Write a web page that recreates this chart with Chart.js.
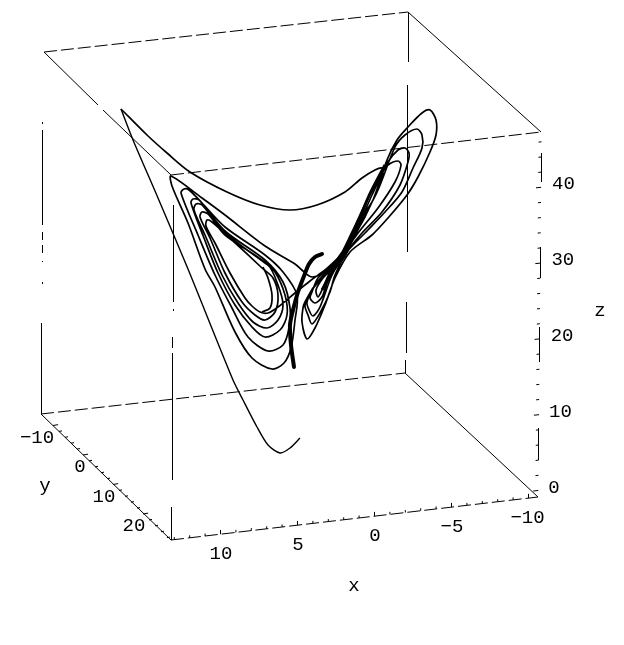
<!DOCTYPE html>
<html><head><meta charset="utf-8">
<style>html,body{margin:0;padding:0;background:#fff}canvas{display:block}</style>
<script src="https://cdn.jsdelivr.net/npm/chart.js@4"></script></head>
<body><canvas id="c" width="624" height="645"></canvas>
<script>
// Curve samples in the projected plane of the 3D view.
const tailX=[300,290,280,268,257,243,233,188,158,133,121];
const tailY=[438,448,453,445,427,400,380,269,198,140,109];
const rightWingX=[121,147,167,190,227,260,290,317,345,362,375,382,383,380,372,362,355,340,330,322,318,316,323,335,352,368,382,388,398,401,395,378,358,342,328,322,315,310,312,318,335,355,372,388,398,405,409,408,400,382,362,345,332,320,313,309,307,315,335,358,378,395,405,417,422,422,413,402,385,365,347,335,330,320,312,308,305,312,335,355,373,387,397,408,422,430,436,436,430,418,407,388,372,350,335,325,315,307,302,303,305,315,330,338];
const rightWingY=[109,135,153,172,192,205,210,205,192,178,170,168,172,185,202,217,228,258,272,290,297,290,278,265,232,198,173,165,161,165,182,208,233,256,280,297,303,298,292,278,262,232,195,162,150,148,153,162,185,212,233,254,275,307,316,310,302,285,262,228,190,147,135,129,135,148,168,192,212,233,252,275,292,313,324,315,305,290,263,235,200,160,140,127,113,110,120,135,152,177,195,218,235,252,278,305,328,339,322,308,302,285,268,258];
const leftWingX=[338,325,310,295,278,268,260,252,245,230,215,206,207,212,232,262,273,278,275,265,255,242,225,210,200,202,208,225,268,278,283,278,267,253,238,222,205,194,196,202,225,265,275,285,287,280,265,252,235,218,204,191,193,199,225,265,283,290,289,283,268,248,232,215,198,181,184,189,202,225,265,283,297,295,291,284,272,252,235,215,205,188,172,171,202,225,265,295,303,312,325,340];
const leftWingY=[258,270,281,293,307,313,312,306,298,273,243,226,220,222,240,268,278,295,312,320,315,302,273,238,217,212,214,235,265,285,305,320,328,322,303,275,235,210,204,205,233,263,272,295,315,330,337,327,305,273,238,203,199,200,231,260,282,308,328,345,351,337,308,275,235,193,189,190,203,227,255,272,295,320,348,363,369,358,332,287,269,223,186,176,198,215,246,264,271,277,272,258];
const innerX=[263,268,272,270,262];
const innerY=[267,278,295,308,312];
const waistX=[322,335,345,355,368,385];
const waistY=[290,268,255,232,198,165];
const endX=[322,315,309,304,298,293,290,291,294];
const endY=[254,257,264,276,292,310,325,345,367];

// Axis ticks and their printed labels.
const xTicks=[-10,-9,-8,-7,-6,-5,-4,-3,-2,-1,0,1,2,3,4,5,6,7,8,9,10,11,12,13];
const yTicks=[-10,-8,-6,-4,-2,0,2,4,6,8,10,12,14,16,18,20,22,24,26,28];
const zTicks=[0,2,4,6,8,10,12,14,16,18,20,22,24,26,28,30,32,34,36,38,40,42,44,46];
const xLabels=[-10,-5,0,5,10];
const yLabels=[-10,0,10,20];
const zLabels=[0,10,20,30,40];
const axisTitles=['x','y','z'];
const xLabelShift=[-1.5,0,0,0,0];
const yLabelShift=[-16,-3,-9,-9];

// Bounding box: dashed edges, thin edges and broken vertical edges.
const dashEdgeX=[[44,408],[171,541],[41,405],[171,538]];
const dashEdgeY=[[52,12],[175,132],[414,373],[540,497]];
const thinEdgeX=[[408,541],[44,98],[103,171],[405,538],[41,171]];
const thinEdgeY=[[12,132],[52,105],[110,175],[373,497],[414,540]];
const vertEdgeX=[[42.5,42.5],[42.5,42.5],[42.5,42.5],[42.5,42.5],[42.5,42.5],[42.5,42.5],[41.5,41.5],[173.5,173.5],[173.5,173.5],[172.5,172.5],[172.5,172.5],[171.5,171.5],[408.5,408.5],[407.5,407.5],[406.5,406.5],[405.5,405.5],[541.5,541.5],[540.5,540.5],[539.5,539.5],[538.5,538.5]];
const vertEdgeY=[[122,124],[130,225],[232,240],[245,253],[261,262],[282,284],[323,414],[205,302],[309,311],[337,348],[353,480],[507,540],[12,62],[85,252],[302,353],[360,373],[153,182],[247,278],[327,362],[428,460]];

const fromPairs=(xs,ys)=>{const o=[];xs.forEach((x,i)=>{o.push({x:x[0],y:ys[i][0]},{x:x[1],y:ys[i][1]},{x:null,y:null});});return o;};
const zip=(xs,ys)=>xs.map((x,i)=>({x,y:ys[i]}));
// Projected positions of the value axes.
const xAt=v=>{const px=374.5-15.4*v;return {x:px,y:540-(px-171)*43/367};};
const yAt=v=>({x:83+3*v,y:455+2.95*v});
const zAt=v=>({x:538.3+0.07*v,y:490.5-7.58*v});
const tickSegs=(vals,at,dx,dy,major)=>{const o=[];vals.forEach(v=>{const p=at(v),k=v%major===0?1.7:1;o.push({x:p.x,y:p.y},{x:p.x+dx*k,y:p.y+dy*k},{x:null,y:null});});return o;};
const ticks=[...tickSegs(xTicks,xAt,0,-2.5,5),...tickSegs(yTicks,yAt,3,-0.5,10),...tickSegs(zTicks,zAt,-3,0.3,10)];

const INK='#000';
const seg=(data,w,extra)=>Object.assign({data,showLine:true,borderColor:INK,backgroundColor:INK,borderWidth:w,pointRadius:0,spanGaps:false,tension:0,borderCapStyle:'butt'},extra||{});

const labelPlugin={id:'axisText',afterDatasetsDraw(ch){
  const g=ch.ctx,sx=ch.scales.x,sy=ch.scales.y;
  g.save();g.fillStyle=INK;g.font='19px "Liberation Mono"';g.textBaseline='middle';
  const put=(t,x,y,a)=>{g.textAlign=a;g.fillText(t,sx.getPixelForValue(x),sy.getPixelForValue(y));};
  const txt=v=>String(v).replace('-','\u2212');
  xLabels.forEach((v,i)=>{const p=xAt(v);put(txt(v),p.x+0.5+xLabelShift[i],p.y+20,'center');});
  yLabels.forEach((v,i)=>{const p=yAt(v);put(txt(v),p.x+yLabelShift[i],p.y+12,'center');});
  zLabels.forEach(v=>{const p=zAt(v);put(txt(v),p.x+(v<15?10:11),p.y-3,'left');});
  put(axisTitles[0],354,586,'center');
  put(axisTitles[1],45,486,'center');
  put(axisTitles[2],600,311,'center');
  g.restore();
}};

new Chart(document.getElementById('c'),{
  type:'scatter',
  data:{datasets:[
    seg(fromPairs(dashEdgeX,dashEdgeY),1,{borderDash:[13,4]}),
    seg(fromPairs(thinEdgeX,thinEdgeY),1),
    seg(fromPairs(vertEdgeX,vertEdgeY),1),
    seg(ticks,1),
    seg(zip(tailX,tailY),1.4,{tension:0.25}),
    seg(zip(rightWingX,rightWingY),1.7,{tension:0.3}),
    seg(zip(leftWingX,leftWingY),1.7,{tension:0.3}),
    seg(zip(innerX,innerY),1.7,{tension:0.3}),
    seg(zip(waistX,waistY),3,{tension:0.3}),
    seg(zip(endX,endY),4,{tension:0.3,borderCapStyle:'round'})
  ]},
  options:{responsive:false,animation:false,
    layout:{padding:0},
    plugins:{legend:{display:false},tooltip:{enabled:false}},
    scales:{
      x:{type:'linear',display:false,min:0,max:624},
      y:{type:'linear',display:false,min:0,max:645,reverse:true}
    }},
  plugins:[labelPlugin]
});
</script></body></html>
